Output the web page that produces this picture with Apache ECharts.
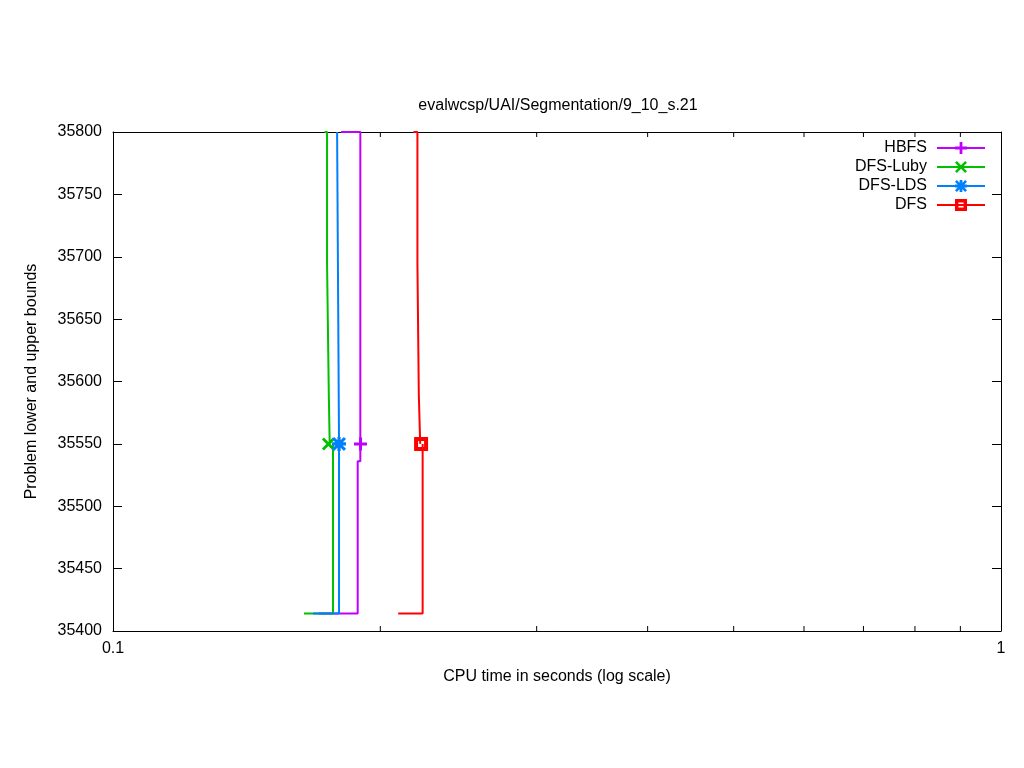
<!DOCTYPE html>
<html>
<head>
<meta charset="utf-8">
<script src="https://cdn.jsdelivr.net/npm/echarts@6/dist/echarts.min.js"></script>
<style>
html,body{margin:0;padding:0;background:#fff;}
#chart{width:1024px;height:768px;}
</style>
</head>
<body>
<div id="chart"></div>
<script>
// ---- data ----
const titleText = 'evalwcsp/UAI/Segmentation/9_10_s.21';
const xName = 'CPU time in seconds (log scale)';
const yName = 'Problem lower and upper bounds';
const algorithms = ['HBFS', 'DFS-Luby', 'DFS-LDS', 'DFS'];
const colors = ['#c000ff', '#00c000', '#0080ff', '#ff0000'];

// upper bounds [time, bound]
const hbfsUpper = [[0.1806, 35800], [0.1899, 35550]];
const lubyUpper = [[0.1731, 35800], [0.1742, 35695], [0.1750, 35589], [0.1754, 35550]];
const ldsUpper = [[0.1788, 35800], [0.1797, 35550]];
const dfsUpper = [[0.2180, 35800], [0.2202, 35695], [0.2210, 35589], [0.2218, 35550]];

// lower bounds [time, bound]
const hbfsLower = [[0.1706, 35414], [0.1886, 35536], [0.1899, 35550]];
const lubyLower = [[0.1641, 35414], [0.1769, 35550]];
const ldsLower = [[0.1680, 35414], [0.1797, 35550]];
const dfsLower = [[0.2095, 35414], [0.2232, 35550]];

// optimum markers [time, bound]
const hbfsPoint = [0.1900, 35550];
const lubyPoint = [0.1748, 35550];
const ldsPoint = [0.1797, 35550];
const dfsPoint = [0.2223, 35550];

const yTicks = [35400, 35450, 35500, 35550, 35600, 35650, 35700, 35750, 35800];
const xMinorTicks = [0.2, 0.3, 0.4, 0.5, 0.6, 0.7, 0.8, 0.9];

// ---- symbols ----
const plusShape = 'M-1.5,-6.5H1.5V-1.5H6.5V1.5H1.5V6.5H-1.5V1.5H-6.5V-1.5H-1.5Z';
const xShape = 'M-6.5,-4.5L-4.5,-6.5L0,-2L4.5,-6.5L6.5,-4.5L2,0L6.5,4.5L4.5,6.5L0,2L-4.5,6.5L-6.5,4.5L-2,0Z';
const plusPath = 'path://' + plusShape;
const xPath = 'path://' + xShape;
const starPath = 'path://' + plusShape + ' ' + xShape;
const squarePath = 'path://M-7,-7H7V7H-7Z M-3,-3V3H3V-3Z';
const symbols = [plusPath, xPath, starPath, squarePath];
const symbolSizes = [13, 13, 14, 14];

const uppers = [hbfsUpper, lubyUpper, ldsUpper, dfsUpper];
const lowers = [hbfsLower, lubyLower, ldsLower, dfsLower];
const points = [hbfsPoint, lubyPoint, ldsPoint, dfsPoint];

const FONT = 'Liberation Sans';
const FS = 16;

const series = [];
algorithms.forEach(function (name, i) {
  series.push({
    name: name,
    type: 'line',
    step: 'end',
    symbol: symbols[i],
    symbolSize: symbolSizes[i],
    showSymbol: true,
    data: lowers[i].map(function (p) { return { value: p, symbol: 'none' }; }),
    lineStyle: { color: colors[i], width: 2 },
    itemStyle: { color: colors[i] },
    emphasis: { disabled: true },
    silent: true,
    z: 2 + i
  });
  series.push({
    name: name + ' upper',
    type: 'line',
    step: 'end',
    showSymbol: false,
    data: uppers[i],
    lineStyle: { color: colors[i], width: 2 },
    itemStyle: { color: colors[i] },
    emphasis: { disabled: true },
    silent: true,
    z: 2 + i
  });
  series.push({
    name: name + ' point',
    type: 'scatter',
    symbol: symbols[i],
    symbolSize: symbolSizes[i],
    data: [points[i]],
    itemStyle: { color: colors[i], opacity: 1 },
    emphasis: { disabled: true },
    silent: true,
    z: 10 + i
  });
});

series.push({
  name: 'minorTicks',
  type: 'custom',
  silent: true,
  data: xMinorTicks.map(function (v) { return [v, 35400]; }),
  renderItem: function (params, api) {
    const x = api.value(0);
    const b = api.coord([x, 35400]);
    const t = api.coord([x, 35800]);
    return {
      type: 'group',
      children: [
        { type: 'line', shape: { x1: b[0], y1: b[1], x2: b[0], y2: b[1] - 5 }, style: { stroke: '#000', lineWidth: 1 } },
        { type: 'line', shape: { x1: t[0], y1: t[1], x2: t[0], y2: t[1] + 5 }, style: { stroke: '#000', lineWidth: 1 } }
      ]
    };
  },
  z: 20
});

const chart = echarts.init(document.getElementById('chart'), null, { renderer: 'canvas' });
chart.setOption({
  animation: false,
  backgroundColor: '#fff',
  title: {
    text: titleText,
    left: 553, top: 93,
    textAlign: 'center',
    textStyle: { fontFamily: FONT, fontSize: FS, fontWeight: 'normal', color: '#000' }
  },
  legend: {
    data: algorithms,
    orient: 'vertical',
    align: 'right',
    right: 33,
    top: 135,
    itemWidth: 48,
    itemHeight: 15,
    itemGap: 3,
    textStyle: { fontFamily: FONT, fontSize: FS, color: '#000', padding: [0, 5, 0, 0] },
    selectedMode: false
  },
  grid: { left: 113, right: 23, top: 132, bottom: 137, containLabel: false },
  xAxis: [{
    type: 'log', logBase: 10, min: 0.1, max: 1,
    name: xName, nameLocation: 'middle', nameGap: 38,
    nameTextStyle: { fontFamily: FONT, fontSize: FS, color: '#000' },
    axisLine: { lineStyle: { color: '#000', width: 1 } },
    axisTick: { inside: true, length: 9, lineStyle: { color: '#000' } },
    axisLabel: { fontFamily: FONT, fontSize: FS, color: '#000', margin: 10, formatter: function (v) { return String(v); } },
    splitLine: { show: false },
    minorTick: { show: false }
  }, {
    type: 'log', logBase: 10, min: 0.1, max: 1, position: 'top',
    axisLine: { lineStyle: { color: '#000', width: 1 } },
    axisTick: { inside: true, length: 9, lineStyle: { color: '#000' } },
    axisLabel: { show: false },
    splitLine: { show: false }
  }],
  yAxis: [{
    type: 'value', min: 35400, max: 35800, interval: 50,
    name: yName, nameLocation: 'middle', nameGap: 73,
    nameTextStyle: { fontFamily: FONT, fontSize: FS, color: '#000' },
    axisLine: { show: true, lineStyle: { color: '#000', width: 1 } },
    axisTick: { show: true, inside: true, length: 9, lineStyle: { color: '#000' } },
    axisLabel: { fontFamily: FONT, fontSize: FS, color: '#000', margin: 11, formatter: function (v) { return String(v); } },
    splitLine: { show: false }
  }, {
    type: 'value', min: 35400, max: 35800, interval: 50, position: 'right',
    axisLine: { show: true, lineStyle: { color: '#000', width: 1 } },
    axisTick: { show: true, inside: true, length: 9, lineStyle: { color: '#000' } },
    axisLabel: { show: false },
    splitLine: { show: false }
  }],
  series: series
});
</script>
</body>
</html>
